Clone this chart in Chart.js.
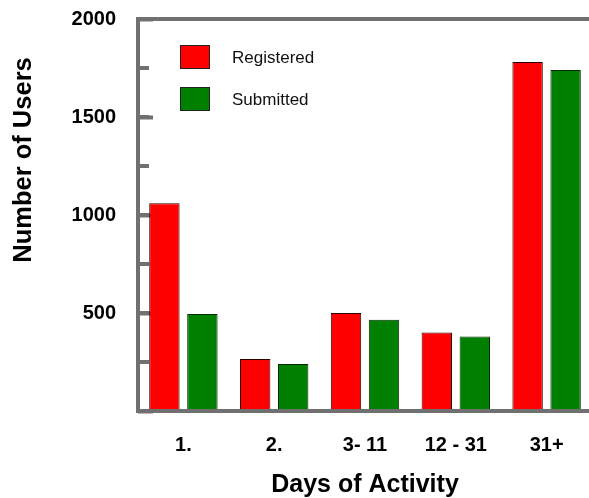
<!DOCTYPE html>
<html>
<head>
<meta charset="utf-8">
<script src="https://cdn.jsdelivr.net/npm/chart.js@4"></script>
<style>
  html, body { margin: 0; padding: 0; background: #fff; overflow: hidden; }
  #wrap { width: 592px; height: 498px; }
</style>
</head>
<body>
<div id="wrap"><canvas id="chart"></canvas></div>
<script>
// Daten
var categories = ['1.', '2.', '3- 11', '12 - 31', '31+'];
var registered = [1060, 265, 500, 400, 1780];
var submitted = [495, 240, 465, 380, 1740];
var seriesNames = ['Registered', 'Submitted'];
var yTitle = 'Number of Users';
var xTitle = 'Days of Activity';

var axisGrey = '#707070';
var fontFamily = '"Liberation Sans", Arial, Helvetica, sans-serif';

// Legende und y-Titel selbst zeichnen (sitzen frei im Diagramm)
var extras = {
  id: 'extras',
  afterDraw: function(chart) {
    var ctx = chart.ctx;
    ctx.save();
    chart.data.datasets.forEach(function(ds, i) {
      var top = 45 + i * 42;
      ctx.fillStyle = ds.backgroundColor;
      ctx.fillRect(180, top, 30, 24);
      ctx.lineWidth = 1;
      ctx.strokeStyle = '#222';
      ctx.strokeRect(180.5, top + 0.5, 29, 23);
      ctx.fillStyle = '#111';
      ctx.font = '17px ' + fontFamily;
      ctx.textBaseline = 'middle';
      ctx.textAlign = 'left';
      ctx.fillText(ds.label, 232, top + 13);
    });
    ctx.translate(31, 160);
    ctx.rotate(-Math.PI / 2);
    ctx.font = 'bold 25.5px ' + fontFamily;
    ctx.fillStyle = '#000';
    ctx.textAlign = 'center';
    ctx.textBaseline = 'alphabetic';
    ctx.fillText(yTitle, 0, 0);
    ctx.restore();
  }
};

Chart.defaults.font.family = fontFamily;
Chart.defaults.color = '#000';

var chart = new Chart(document.getElementById('chart'), {
  type: 'bar',
  data: {
    labels: categories,
    datasets: [
      {
        label: seriesNames[0],
        data: registered,
        backgroundColor: '#ff0000',
        borderColor: '#2a0000',
        borderWidth: 1,
        yAxisID: 'y'
      },
      {
        label: seriesNames[1],
        data: submitted,
        backgroundColor: '#008000',
        borderColor: '#002a00',
        borderWidth: 1,
        yAxisID: 'y'
      }
    ]
  },
  options: {
    responsive: true,
    maintainAspectRatio: false,
    animation: false,
    categoryPercentage: 0.837,
    barPercentage: 0.8,
    layout: { padding: { top: 19, left: 0, right: 0, bottom: 0 } },
    plugins: {
      legend: { display: false },
      tooltip: { enabled: false }
    },
    scales: {
      x: {
        grid: { display: false, drawTicks: false },
        border: { display: true, color: axisGrey, width: 4 },
        ticks: { font: { size: 20, weight: 'bold' }, padding: 22 },
        title: {
          display: true,
          text: xTitle,
          font: { size: 25, weight: 'bold', lineHeight: 1 },
          padding: { top: 0, bottom: 0 }
        },
        afterFit: function(s) { s.height = 87; }
      },
      y: {
        position: 'left',
        weight: 2,
        min: 0,
        max: 2000,
        ticks: {
          stepSize: 250,
          padding: 33,
          font: { size: 20, weight: 'bold' },
          callback: function(v) { return (v % 500 === 0 && v > 0) ? v : ''; }
        },
        grid: {
          drawOnChartArea: true,
          color: function(c) { return (c.tick && c.tick.value === 2000) ? axisGrey : 'rgba(0,0,0,0)'; },
          lineWidth: 4,
          tickLength: -11,
          tickColor: axisGrey,
          tickWidth: 4
        },
        border: { color: axisGrey, width: 4 },
        afterFit: function(s) {
          s.width = 138;
          s.paddingTop = 12;
          s.paddingBottom = 0;
        }
      },
      y2: {
        position: 'left',
        weight: 1,
        min: 0,
        max: 2000,
        ticks: { stepSize: 500, display: false },
        grid: {
          drawOnChartArea: false,
          tickLength: -15,
          tickColor: axisGrey,
          tickWidth: 4
        },
        border: { display: false },
        afterFit: function(s) {
          s.width = 0;
          s.paddingTop = 0;
          s.paddingBottom = 0;
        }
      }
    }
  },
  plugins: [extras]
});
</script>
</body>
</html>
